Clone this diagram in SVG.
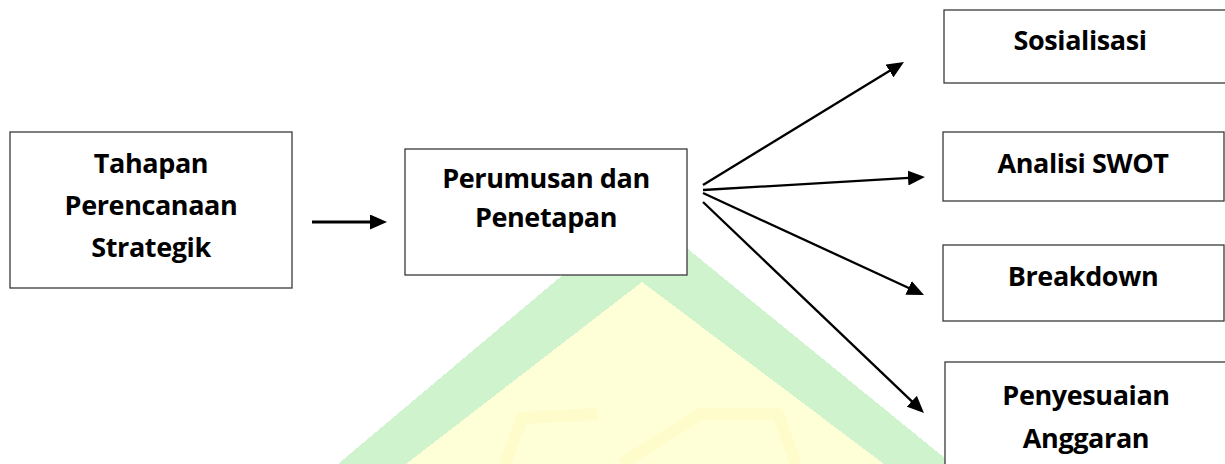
<svg xmlns="http://www.w3.org/2000/svg" width="1225" height="464" viewBox="0 0 1225 464">
  <style>
    .box { fill: #ffffff; stroke: #3a3a3a; stroke-width: 1.3; }
    .label { font-family: "Open Sans", Lato, "Liberation Sans", sans-serif; font-weight: 700; font-size: 27px; letter-spacing: -0.4px; fill: #000000; text-anchor: middle; }
    .link { stroke: #000000; stroke-width: 2.3; fill: none; marker-end: url(#head); }
    .main-link { stroke-width: 3; }
    .wm-band { fill: #cef3cd; }
    .wm-core { fill: #fefed7; }
    .wm-mark { fill: none; stroke: #fefcca; stroke-width: 12; stroke-linejoin: round; }
  </style>
  <defs>
    <marker id="head" markerUnits="userSpaceOnUse" markerWidth="17" markerHeight="15" viewBox="0 0 17 15" refX="5" refY="7.5" orient="auto">
      <path d="M0,0 L17,7.5 L0,15 Z" fill="#000000"/>
    </marker>
  </defs>

  <rect width="1225" height="464" fill="#ffffff"/>

  <!-- background emblem -->
  <g id="emblem" shape-rendering="crispEdges">
    <polygon class="wm-band" points="640,210 952,464 338,464"/>
    <polygon class="wm-core" points="642,282 884,464 406,464"/>
    <path class="wm-mark" d="M505,464 L522,418 L598,414 M622,464 L700,414 L778,414 L796,464"/>
  </g>

  <!-- connectors -->
  <g id="connectors">
    <line class="link main-link" x1="312" y1="222" x2="375" y2="222"/>
    <line class="link" x1="703" y1="185" x2="893.8" y2="68.3"/>
    <line class="link" x1="703" y1="190" x2="913" y2="177.7"/>
    <line class="link" x1="703" y1="193" x2="913.1" y2="290"/>
    <line class="link" x1="703" y1="202" x2="915.3" y2="404.7"/>
  </g>

  <g id="tahapan">
    <rect class="box" x="10" y="132" width="282" height="156"/>
    <text class="label" x="151" y="173">Tahapan</text>
    <text class="label" x="151" y="215">Perencanaan</text>
    <text class="label" x="151" y="257">Strategik</text>
  </g>

  <g id="perumusan">
    <rect class="box" x="405" y="149" width="282" height="126"/>
    <text class="label" x="546" y="188">Perumusan dan</text>
    <text class="label" x="546" y="227">Penetapan</text>
  </g>

  <g id="sosialisasi">
    <rect class="box" x="944" y="10" width="290" height="73"/>
    <text class="label" x="1080" y="50">Sosialisasi</text>
  </g>

  <g id="swot">
    <rect class="box" x="943" y="132" width="281" height="69"/>
    <text class="label" x="1083" y="173">Analisi SWOT</text>
  </g>

  <g id="breakdown">
    <rect class="box" x="943" y="245" width="281" height="76"/>
    <text class="label" x="1083" y="286">Breakdown</text>
  </g>

  <g id="anggaran">
    <rect class="box" x="945" y="362" width="290" height="120"/>
    <text class="label" x="1086" y="405">Penyesuaian</text>
    <text class="label" x="1086" y="448">Anggaran</text>
  </g>
</svg>
